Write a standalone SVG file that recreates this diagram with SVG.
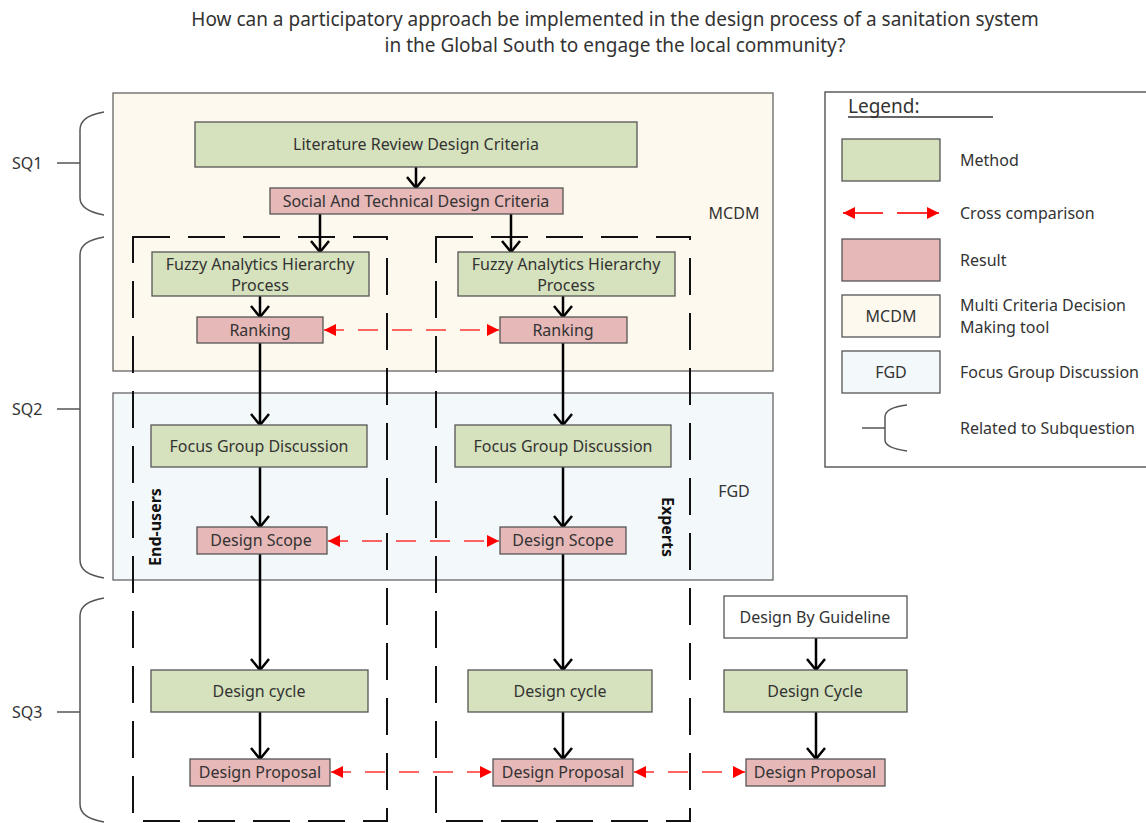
<svg xmlns="http://www.w3.org/2000/svg" width="1146" height="823" viewBox="0 0 1146 823">
<style>
text{font-family:"Noto Sans","Open Sans","Liberation Sans",sans-serif;fill:#333;}
.t{font-size:16px;text-anchor:middle;}
.title{font-size:19px;text-anchor:middle;}
.lg{font-size:16px;}
.m{fill:#d6e2bd;stroke:#555;stroke-width:1.3;}
.r{fill:#e6b8b7;stroke:#555;stroke-width:1.3;}
.w{fill:#fff;stroke:#555;stroke-width:1.3;}
.col{fill:none;stroke:#111;stroke-width:2;stroke-dasharray:37 18;}
.br{fill:none;stroke:#555;stroke-width:1.5;}
.a{stroke:#000;stroke-width:2.5;fill:none;marker-end:url(#chev);}
.x{stroke:#f33;stroke-width:1.6;fill:none;stroke-dasharray:20 14;marker-start:url(#tri);marker-end:url(#tri);}
</style>
<defs>
<marker id="chev" viewBox="0 0 14 20" refX="12" refY="10" markerWidth="14" markerHeight="20" markerUnits="userSpaceOnUse" orient="auto">
<path d="M1,1 L12,10 L1,19" fill="none" stroke="#000" stroke-width="2.5"/>
</marker>
<marker id="tri" viewBox="0 0 12 12" refX="12" refY="6" markerWidth="12" markerHeight="12" markerUnits="userSpaceOnUse" orient="auto-start-reverse">
<path d="M0,0 L12,6 L0,12 z" fill="#f00"/>
</marker>
</defs>
<rect width="1146" height="823" fill="#fff"/>
<g id="title">
<text class="title" x="615" y="26">How can a participatory approach be implemented in the design process of a sanitation system</text>
<text class="title" x="615" y="52">in the Global South to engage the local community?</text>
</g>
<g id="mcdm-area">
<rect x="113" y="93" width="660" height="278" fill="#fef9ef" stroke="#666" stroke-width="1.3"/>
<text class="t" x="734" y="219">MCDM</text>
</g>
<g id="fgd-area">
<rect x="113" y="393" width="660" height="187" fill="#f3f8fb" stroke="#666" stroke-width="1.3"/>
<text class="t" x="734" y="497">FGD</text>
</g>
<g id="subquestions">
<text class="lg" x="12" y="169">SQ1</text>
<path class="br" d="M57,163 H80 M104,112 C88,115 80,120 80,130 V198 C80,207 88,212 104,215"/>
<text class="lg" x="12" y="415">SQ2</text>
<path class="br" d="M57,409 H80 M104,237 C88,240 80,245 80,255 V560 C80,570 88,575 104,578"/>
<text class="lg" x="12" y="718">SQ3</text>
<path class="br" d="M57,712 H80 M104,598 C88,601 80,606 80,616 V804 C80,814 88,819 104,822"/>
</g>
<g id="end-users">
<rect class="col" x="133" y="237" width="254" height="584"/>
<text x="155" y="527" font-size="16" font-weight="bold" text-anchor="middle" dominant-baseline="central" transform="rotate(-90 155 527)" style="fill:#111">End-users</text>
</g>
<g id="experts">
<rect class="col" x="436" y="237" width="254" height="584"/>
<text x="668" y="527" font-size="16" font-weight="bold" text-anchor="middle" dominant-baseline="central" transform="rotate(90 668 527)" style="fill:#111">Experts</text>
</g>
<g id="connectors">
<line class="a" x1="416" y1="167" x2="416" y2="188"/>
<line class="a" x1="320" y1="214" x2="320" y2="252"/>
<line class="a" x1="511" y1="214" x2="511" y2="252"/>
<line class="a" x1="260" y1="296" x2="260" y2="317"/>
<line class="a" x1="563" y1="296" x2="563" y2="317"/>
<line class="a" x1="260" y1="343" x2="260" y2="425"/>
<line class="a" x1="563" y1="343" x2="563" y2="425"/>
<line class="a" x1="260" y1="467" x2="260" y2="527"/>
<line class="a" x1="563" y1="467" x2="563" y2="527"/>
<line class="a" x1="260" y1="554" x2="260" y2="670"/>
<line class="a" x1="563" y1="554" x2="563" y2="670"/>
<line class="a" x1="260" y1="712" x2="260" y2="759"/>
<line class="a" x1="563" y1="712" x2="563" y2="759"/>
<line class="a" x1="816" y1="638" x2="816" y2="670"/>
<line class="a" x1="816" y1="712" x2="816" y2="759"/>
<line class="x" x1="324" y1="330" x2="499" y2="330"/>
<line class="x" x1="328" y1="541" x2="499" y2="541"/>
<line class="x" x1="331" y1="772" x2="492" y2="772"/>
<line class="x" x1="634" y1="772" x2="745" y2="772"/>
</g>
<g id="lit-review"><rect class="m" x="195" y="122" width="442" height="45"/><text class="t" x="416" y="150">Literature Review Design Criteria</text></g>
<g id="social-tech"><rect class="r" x="270" y="188" width="293" height="26"/><text class="t" x="416" y="206.5">Social And Technical Design Criteria</text></g>
<g id="fahp-1"><rect class="m" x="152" y="252" width="217" height="44"/><text class="t" x="260" y="269.5">Fuzzy Analytics Hierarchy</text><text class="t" x="260" y="290.5">Process</text></g>
<g id="fahp-2"><rect class="m" x="458" y="252" width="217" height="44"/><text class="t" x="566" y="269.5">Fuzzy Analytics Hierarchy</text><text class="t" x="566" y="290.5">Process</text></g>
<g id="rank-1"><rect class="r" x="197" y="317" width="126" height="26"/><text class="t" x="260" y="335.5">Ranking</text></g>
<g id="rank-2"><rect class="r" x="500" y="317" width="127" height="26"/><text class="t" x="563" y="335.5">Ranking</text></g>
<g id="fgd-1"><rect class="m" x="151" y="425" width="216" height="42"/><text class="t" x="259" y="451.5">Focus Group Discussion</text></g>
<g id="fgd-2"><rect class="m" x="455" y="425" width="216" height="42"/><text class="t" x="563" y="451.5">Focus Group Discussion</text></g>
<g id="scope-1"><rect class="r" x="197" y="527" width="130" height="27"/><text class="t" x="261" y="546">Design Scope</text></g>
<g id="scope-2"><rect class="r" x="500" y="527" width="126" height="27"/><text class="t" x="563" y="546">Design Scope</text></g>
<g id="guideline"><rect class="w" x="724" y="596" width="183" height="42"/><text class="t" x="815" y="622.5">Design By Guideline</text></g>
<g id="cycle-1"><rect class="m" x="151" y="670" width="217" height="42"/><text class="t" x="259" y="696.5">Design cycle</text></g>
<g id="cycle-2"><rect class="m" x="468" y="670" width="184" height="42"/><text class="t" x="560" y="696.5">Design cycle</text></g>
<g id="cycle-3"><rect class="m" x="724" y="670" width="183" height="42"/><text class="t" x="815" y="696.5">Design Cycle</text></g>
<g id="proposal-1"><rect class="r" x="190" y="759" width="140" height="27"/><text class="t" x="260" y="778">Design Proposal</text></g>
<g id="proposal-2"><rect class="r" x="493" y="759" width="140" height="27"/><text class="t" x="563" y="778">Design Proposal</text></g>
<g id="proposal-3"><rect class="r" x="746" y="759" width="139" height="27"/><text class="t" x="815" y="778">Design Proposal</text></g>
<g id="legend">
<rect x="825" y="92" width="330" height="375" fill="#fff" stroke="#444" stroke-width="1.3"/>
<text x="848" y="113" font-size="19">Legend:</text>
<line x1="848" y1="117" x2="993" y2="117" stroke="#333" stroke-width="1.5"/>
<rect class="m" x="842" y="139" width="98" height="42"/>
<text class="lg" x="960" y="166">Method</text>
<line x1="843" y1="213" x2="883" y2="213" stroke="#f33" stroke-width="1.8" marker-start="url(#tri)"/>
<line x1="897" y1="213" x2="939" y2="213" stroke="#f33" stroke-width="1.8" marker-end="url(#tri)"/>
<text class="lg" x="960" y="219">Cross comparison</text>
<rect class="r" x="842" y="239" width="98" height="42"/>
<text class="lg" x="960" y="266">Result</text>
<rect x="842" y="295" width="98" height="42" fill="#fef9ef" stroke="#555" stroke-width="1.3"/>
<text class="t" x="891" y="322">MCDM</text>
<text class="lg" x="960" y="311">Multi Criteria Decision</text>
<text class="lg" x="960" y="333">Making tool</text>
<rect x="842" y="351" width="98" height="42" fill="#f3f8fb" stroke="#555" stroke-width="1.3"/>
<text class="t" x="891" y="378">FGD</text>
<text class="lg" x="960" y="378">Focus Group Discussion</text>
<path class="br" d="M862,428 H885 M907,405 C893,407 885,410 885,417 V440 C885,446 893,449 907,451"/>
<text class="lg" x="960" y="434">Related to Subquestion</text>
</g>
</svg>
